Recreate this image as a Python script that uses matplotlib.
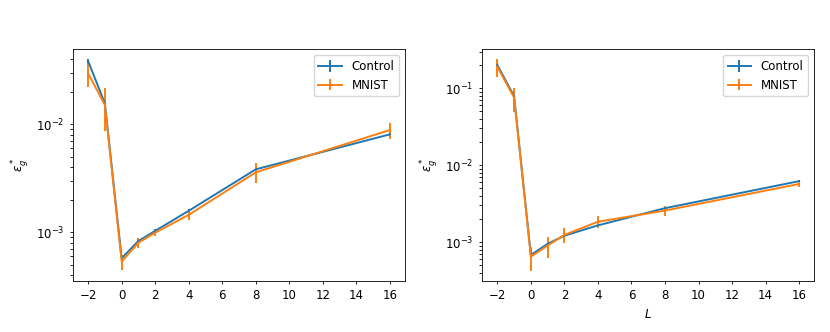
import numpy as np
import matplotlib.pyplot as plt

# Werte
L = [-2, -1, 0, 1, 2, 4, 8, 16]

# linkes Panel
ctrl_a = [0.0386, 0.0156, 5.74e-4, 8.3e-4, 1.03e-3, 1.58e-3, 3.83e-3, 8.08e-3]
ctrl_a_err = [0.002, 0.0008, 2e-5, 3e-5, 3e-5, 5e-5, 1e-4, 4e-4]
mnist_a = [0.0297, 0.0151, 5.35e-4, 8.0e-4, 0.99e-3, 1.45e-3, 3.59e-3, 8.86e-3]
mnist_a_err = [0.0075, 0.0065, 8.5e-5, 9e-5, 6e-5, 1.6e-4, 7.5e-4, 1.5e-3]

# rechtes Panel
ctrl_b = [0.201, 0.079, 6.8e-4, 9.5e-4, 1.21e-3, 1.65e-3, 2.76e-3, 6.2e-3]
ctrl_b_err = [0.01, 0.004, 3e-5, 3e-5, 4e-5, 5e-5, 8e-5, 2e-4]
mnist_b = [0.19, 0.0756, 6.45e-4, 9.0e-4, 1.24e-3, 1.84e-3, 2.57e-3, 5.7e-3]
mnist_b_err = [0.048, 0.026, 2.2e-4, 2.7e-4, 2.7e-4, 3.2e-4, 4e-4, 5.5e-4]

plt.rcParams['font.size'] = 8.5

fig = plt.figure(figsize=(8.3, 3.32), dpi=100)
ax1 = fig.add_axes([0.088, 0.154, 0.400, 0.698])
ax2 = fig.add_axes([0.581, 0.154, 0.400, 0.698])

for ax, c, ce, m, me in [(ax1, ctrl_a, ctrl_a_err, mnist_a, mnist_a_err),
                         (ax2, ctrl_b, ctrl_b_err, mnist_b, mnist_b_err)]:
    ax.errorbar(L, c, yerr=ce, label='Control', color='#1f77b4', lw=1.4)
    ax.errorbar(L, m, yerr=me, label='MNIST', color='#ff7f0e', lw=1.4)
    ax.set_yscale('log')
    ax.set_ylabel(r'$\varepsilon_g^*$')
    ax.set_xticks(np.arange(-2, 17, 2))
    ax.tick_params(length=2.5, width=0.6)
    for s in ax.spines.values():
        s.set_linewidth(0.6)
    ax.legend(loc='upper right')

ax1.set_ylim(3.54e-4, 0.0498)
ax2.set_ylim(3.13e-4, 0.323)
ax2.set_xlabel(r'$L$')

plt.savefig('out.png')
